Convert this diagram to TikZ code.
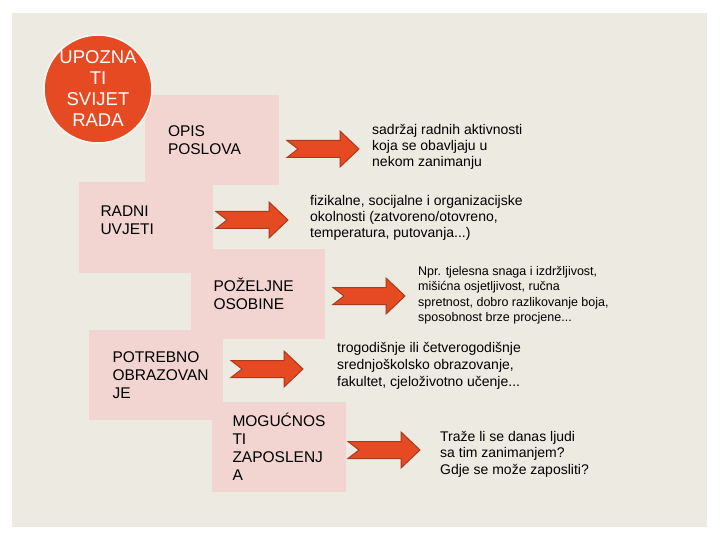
\documentclass[tikz,border=0pt]{standalone}
\usepackage{fontspec}
\setmainfont{Liberation Sans}
\usetikzlibrary{positioning}
\definecolor{panel}{HTML}{EDEAE2}
\definecolor{pinkbox}{HTML}{F2D4D0}
\definecolor{tomato}{HTML}{E64A22}
\definecolor{rust}{HTML}{A83A1E}

\begin{document}
\begin{tikzpicture}[x=1pt, y=-1pt,
    box/.style={rectangle, fill=pinkbox, minimum width=134pt, minimum height=90pt, inner sep=0pt},
    boxtxt/.style={align=left, inner sep=0pt, font=\fontsize{15.5}{18}\selectfont},
    note/.style={align=left, inner sep=0pt, anchor=west, font=\fontsize{14}{16}\selectfont},
    notcharrow/.pic={
        \draw[fill=tomato, draw=rust, line width=1pt, line join=miter]
            (0,-8.5) -- (53,-8.5) -- (53,-18) -- (72,0) -- (53,18) -- (53,8.5) -- (0,8.5) -- (11,0) -- cycle;
    }]
    \fill[white] (0,0) rectangle (720,540);
    \fill[panel] (12,13) rectangle (707,527);

    \node[box] (opis) at (212,140) {};
    \node[box] (radni) at (145.5,227.5) {};
    \node[box] (pozeljne) at (257.5,293.5) {};
    \node[box] (potrebno) at (155.5,375) {};
    \node[box] (mogucnosti) at (278.5,447) {};

    \node[boxtxt, right=23pt of opis.west] (opisT) {OPIS\\POSLOVA};
    \node[boxtxt, right=22pt of radni.west, yshift=7pt] (radniT) {RADNI\\UVJETI};
    \node[boxtxt, right=23pt of pozeljne.west] (pozeljneT) {POŽELJNE\\OSOBINE};
    \node[boxtxt, right=24pt of potrebno.west] (potrebnoT) {POTREBNO\\OBRAZOVAN\\JE};
    \node[boxtxt, right=21pt of mogucnosti.west] (mogucnostiT) {MOGUĆNOS\\TI\\ZAPOSLENJ\\A};

    \node[circle, fill=tomato, draw=white!60!panel, line width=1.5pt, minimum size=108pt,
          inner sep=0pt, align=center, text=white, font=\fontsize{18.5}{21}\selectfont]
          (intro) at (98,89) {UPOZNA\\TI\\SVIJET\\RADA};

    \foreach \x/\y in {287/149, 216/220, 333/296, 231/369, 348/450} {
        \pic at (\x,\y) {notcharrow};
    }

    \node[note] (opisN) at (372,147) {sadržaj radnih aktivnosti\\koja se obavljaju u\\nekom zanimanju};
    \node[note] (radniN) at (310,218) {fizikalne, socijalne i organizacijske\\okolnosti (zatvoreno/otovreno,\\temperatura, putovanja...)};
    \node[note, font=\fontsize{12.5}{15.5}\selectfont] (pozeljneN) at (418,295) {Npr. tjelesna snaga i izdržljivost,\\mišićna osjetljivost, ručna\\spretnost, dobro razlikovanje boja,\\sposobnost brze procjene...};
    \node[note, font=\fontsize{14}{17}\selectfont] (potrebnoN) at (337,366) {trogodišnje ili četverogodišnje\\srednjoškolsko obrazovanje,\\fakultet, cjeloživotno učenje...};
    \node[note, font=\fontsize{14}{16.5}\selectfont] (mogucnostiN) at (440,454) {Traže li se danas ljudi\\sa tim zanimanjem?\\Gdje se može zaposliti?};
\end{tikzpicture}
\end{document}
